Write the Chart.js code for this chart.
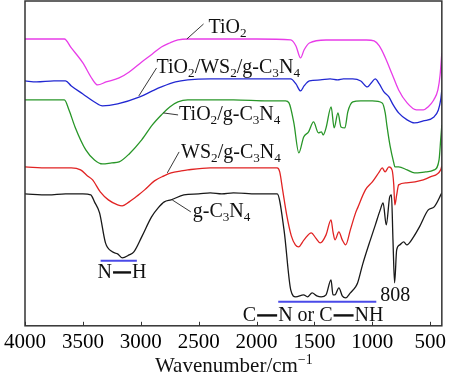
<!DOCTYPE html>
<html lang="en">
<head>
<meta charset="utf-8">
<style>
  html, body { margin: 0; padding: 0; background: #fff; }
  #wrap { width: 450px; height: 375px; }
</style>
</head>
<body>
<div id="wrap"><canvas id="myChart"></canvas></div>
<script src="https://cdn.jsdelivr.net/npm/chart.js"></script>
<script>
// FTIR spectra, transmittance in arbitrary units (curves are offset)
const tickValues = [4000, 3500, 3000, 2500, 2000, 1500, 1000, 500];

const wnTiO2 = [4000,3800,3660,3600,3500,3420,3373,3300,3187,3100,2992,2900,2822,2750,2679,2594,2400,2000,1705,1660,1620,1590,1544,1400,1200,1050,985,940,891,830,773,700,620,560,519,470,434,415,400];
const tTiO2 = [287,287,287,278,263,247,241,244,248,254,264,272,279,283,286,287,287,287,286,280,268,276,283,286,286,286,285,280,269,252,236,223,216,216,219,226,236,251,273];

const wnTWC = [4000,3900,3750,3650,3600,3500,3400,3331,3200,3009,2900,2822,2700,2594,2400,2000,1705,1660,1620,1590,1544,1450,1365,1300,1250,1170,1100,1043,1010,975,940,900,857,820,773,700,637,560,468,430,410,400];
const tTWC = [245,244,245,245,240,232,224,220,222,229,235,239,244,246,247,247,247,242,235,240,245,246,247,246,247,247,245,239,243,247,242,234,229,221,213,206,203,205,209,216,226,236];

const wnTC = [4000,3800,3660,3620,3568,3475,3400,3331,3250,3187,3100,2992,2900,2822,2750,2679,2594,2200,1900,1750,1720,1678,1635,1593,1551,1508,1466,1440,1424,1400,1356,1330,1297,1271,1237,1212,1169,1100,1000,915,889,874,847,815,805,773,700,636,540,466,424,410,400];
const tTC = [226,226,226,216,199,176,166,162,163,164,172,186,201,211,219,224,226,226,225,225,223,203,173,189,194,204,193,194,191,198,219,198,213,199,198,214,224,225,225,223,213,200,180,163,159,159,156,153,154,156,166,186,201];

const wnWC = [4000,3800,3600,3520,3460,3416,3350,3280,3200,3161,3100,3030,2967,2882,2800,2738,2650,2594,2400,2000,1822,1800,1775,1740,1700,1665,1637,1590,1527,1490,1450,1400,1357,1340,1323,1289,1260,1230,1190,1145,1127,1060,1000,940,915,890,857,830,815,806,790,773,705,560,500,410,400];
const tWC = [159,158,158,156,150,146,134,126,121,120,124,130,136,145,150,153,155,156,158,158,158,154,136,111,90,81,79,86,93,88,83,91,106,94,86,94,86,81,96,113,118,136,144,154,158,154,159,156,141,121,131,141,143,146,149,156,160];

const wnCN = [4000,3800,3650,3500,3432,3400,3356,3305,3246,3200,3161,3100,3060,2992,2907,2850,2797,2738,2628,2500,2400,2300,2200,2000,1822,1763,1705,1662,1594,1560,1520,1480,1442,1400,1357,1340,1323,1289,1260,1230,1190,1145,1127,1085,1017,974,932,907,880,850,835,822,808,790,763,729,703,644,593,517,466,400];
const tCN = [132,131,132,132,131,124,113,83,74,72,68,71,74,89,109,118,124,126,131,132,133,132,133,132,132,96,36,29,31,29,33,30,29,31,46,31,31,38,30,28,33,39,43,61,86,101,116,123,101,129,131,86,43,76,81,84,81,89,99,116,119,133];

const serif = '"Liberation Serif", "Times New Roman", serif';

function pts(xs, ys) {
  return xs.map((x, i) => ({ x: x, y: ys[i] }));
}

// text with subscripts / superscripts / bond bars
function drawRich(ctx, x, y, parts, size) {
  let cx = x;
  parts.forEach(p => {
    const txt = p[0], mode = p[1];
    if (mode === 'bar') {
      ctx.fillRect(cx + 1, y - size * 0.33, txt, 2.4);
      cx += txt + 2;
      return;
    }
    let fs = size, dy = 0;
    if (mode === 'sub') { fs = size * 0.66; dy = size * 0.2; }
    if (mode === 'sup') { fs = size * 0.66; dy = -size * 0.4; }
    ctx.font = fs + 'px ' + serif;
    ctx.fillText(txt, cx, y + dy);
    cx += ctx.measureText(txt).width;
  });
  return cx - x;
}

const labels = [
  { wn: 2415, t: 293, parts: [['TiO'], ['2', 'sub']], from: [2602, 287], to: [2458, 302] },
  { wn: 2864, t: 253, parts: [['TiO'], ['2', 'sub'], ['/WS'], ['2', 'sub'], ['/g-C'], ['3', 'sub'], ['N'], ['4', 'sub']], from: [3017, 230], to: [2864, 258] },
  { wn: 2669, t: 206, parts: [['TiO'], ['2', 'sub'], ['/g-C'], ['3', 'sub'], ['N'], ['4', 'sub']], from: [2805, 213], to: [2678, 211] },
  { wn: 2652, t: 168, parts: [['WS'], ['2', 'sub'], ['/g-C'], ['3', 'sub'], ['N'], ['4', 'sub']], from: [2771, 153], to: [2669, 174] },
  { wn: 2551, t: 109, parts: [['g-C'], ['3', 'sub'], ['N'], ['4', 'sub']], from: [2729, 126], to: [2568, 114] },
  { wn: 3373, t: 48, parts: [['N'], [18, 'bar'], ['H']] },
  { wn: 2119, t: 5, parts: [['C'], [20, 'bar'], ['N or C'], [20, 'bar'], ['NH']] },
  { wn: 932, t: 25, parts: [['808']] }
];
const blueMarks = [
  { from: 3347, to: 3034, t: 65 },
  { from: 1813, to: 966, t: 24 }
];

const decor = {
  id: 'decor',
  afterDraw(chart) {
    const ctx = chart.ctx, a = chart.chartArea;
    const xs = chart.scales.x, ys = chart.scales.y;
    ctx.save();
    // frame
    ctx.strokeStyle = '#333';
    ctx.lineWidth = 1.5;
    ctx.strokeRect(a.left, a.top, a.right - a.left, a.bottom - a.top);
    // inward ticks
    ctx.lineWidth = 1;
    tickValues.forEach(v => {
      const px = Math.round(xs.getPixelForValue(v)) + 0.5;
      ctx.beginPath();
      ctx.moveTo(px, a.bottom);
      ctx.lineTo(px, a.bottom - 4);
      ctx.stroke();
    });
    // leader lines
    ctx.strokeStyle = '#222';
    ctx.lineWidth = 0.9;
    labels.forEach(l => {
      if (!l.from) return;
      ctx.beginPath();
      ctx.moveTo(xs.getPixelForValue(l.from[0]), ys.getPixelForValue(l.from[1]));
      ctx.lineTo(xs.getPixelForValue(l.to[0]), ys.getPixelForValue(l.to[1]));
      ctx.stroke();
    });
    // blue marks under bands
    ctx.strokeStyle = '#4a4ae8';
    ctx.lineWidth = 2;
    blueMarks.forEach(b => {
      const py = ys.getPixelForValue(b.t);
      ctx.beginPath();
      ctx.moveTo(xs.getPixelForValue(b.from), py);
      ctx.lineTo(xs.getPixelForValue(b.to), py);
      ctx.stroke();
    });
    // labels
    ctx.fillStyle = '#111';
    ctx.textBaseline = 'alphabetic';
    ctx.textAlign = 'left';
    labels.forEach(l => {
      drawRich(ctx, xs.getPixelForValue(l.wn), ys.getPixelForValue(l.t), l.parts, 20);
    });
    // axis title
    const tParts = [['Wavenumber/cm'], ['\u22121', 'sup']];
    ctx.font = '21px ' + serif;
    const w = ctx.measureText('Wavenumber/cm').width + 14;
    drawRich(ctx, (a.left + a.right) / 2 - w / 2, 372, tParts, 21);
    ctx.restore();
  }
};

const data = {
  datasets: [
    { label: 'TiO2', data: pts(wnTiO2, tTiO2), borderColor: 'rgb(232, 60, 232)' },
    { label: 'TiO2/WS2/g-C3N4', data: pts(wnTWC, tTWC), borderColor: 'rgb(34, 40, 210)' },
    { label: 'TiO2/g-C3N4', data: pts(wnTC, tTC), borderColor: 'rgb(40, 150, 40)' },
    { label: 'WS2/g-C3N4', data: pts(wnWC, tWC), borderColor: 'rgb(225, 35, 35)' },
    { label: 'g-C3N4', data: pts(wnCN, tCN), borderColor: 'rgb(25, 25, 25)' }
  ]
};

const config = {
  type: 'line',
  data: data,
  options: {
    responsive: true,
    maintainAspectRatio: false,
    animation: false,
    layout: { padding: { left: 21, right: 4, top: 1, bottom: 16 } },
    elements: {
      point: { radius: 0 },
      line: { borderWidth: 1.3, cubicInterpolationMode: 'monotone', fill: false }
    },
    plugins: { legend: { display: false }, tooltip: { enabled: false } },
    scales: {
      x: {
        type: 'linear',
        min: 400,
        max: 4000,
        reverse: true,
        afterBuildTicks: (scale) => { scale.ticks = tickValues.map(v => ({ value: v })); },
        grid: { display: false, drawTicks: false },
        border: { display: false },
        ticks: {
          color: '#000', padding: 4, maxRotation: 0,
          font: { family: serif, size: 21 },
          callback: (v) => String(v)
        }
      },
      y: {
        display: false,
        min: 0,
        max: 325
      }
    }
  },
  plugins: [decor]
};

const myChart = new Chart(document.getElementById('myChart'), config);
</script>
</body>
</html>
